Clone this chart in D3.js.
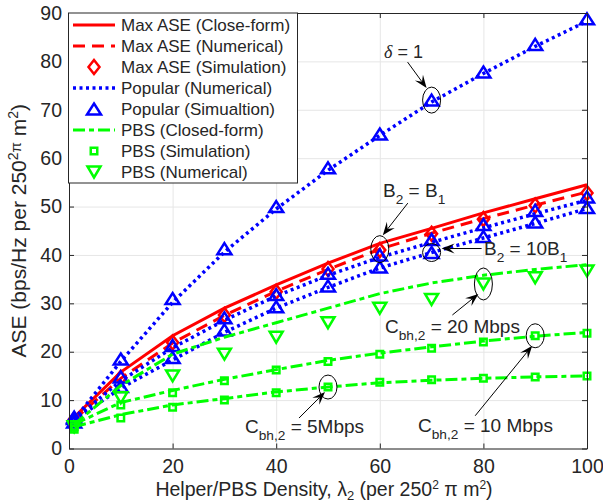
<!DOCTYPE html>
<html>
<head>
<meta charset="utf-8">
<script src="https://cdn.jsdelivr.net/npm/d3@7"></script>
<style>
  body { margin: 0; background: #fff; }
  text { font-family: "Liberation Sans", Arial, sans-serif; fill: #262626; }
</style>
</head>
<body>
<script>
// helper / PBS density (x) and ASE values
const xVals = [1, 10, 20, 30, 40, 50, 60, 70, 80, 90, 100];

const maxClosed = [6.5, 15.8, 23.3, 29, 33.8, 38.3, 42.4, 45.5, 48.7, 51.6, 54.5];
const maxNum    = [6, 14.5, 21.8, 27.5, 32.5, 37, 41.2, 44.5, 47.5, 50.3, 53];
const maxSim    = [6, 14.6, 21.9, 27.6, 32.4, 37.1, 41, 44.4, 47.4, 50.2, 52.8];

const popDeltaNum = [6, 18, 30.2, 40.6, 49.5, 57.5, 64.7, 71.6, 77.5, 83.1, 88.3];
const popB1Num    = [6, 14, 20.8, 26.5, 31.5, 35.8, 39.5, 42.6, 45.6, 48.5, 51.3];
const popB10Num   = [5.8, 12.5, 18.3, 24, 29, 33.3, 37.3, 40.5, 43.5, 46.5, 49.6];
const popDeltaSim = [6.2, 18.5, 31, 41.3, 50, 58, 65, 72, 77.8, 83.5, 88.8];
const popB1Sim    = [6.5, 14.8, 21.3, 27, 31.8, 36.2, 40, 43.2, 46.3, 49.2, 52];
const popB10Sim   = [5.5, 12.8, 18.8, 24.5, 29.3, 33.6, 37.5, 40.5, 43.8, 46.8, 49.8];

const pbs20Closed = [5, 13, 19.5, 23, 26, 29, 32, 34.2, 35.8, 37, 38];
const pbs10Closed = [5, 9.5, 12, 14.3, 16.3, 18.2, 19.7, 21, 22.2, 23.2, 24];
const pbs5Closed  = [4.5, 7, 9, 10.3, 11.7, 12.7, 13.6, 14.1, 14.5, 14.8, 15];
const pbs10Sim    = [4.5, 9, 11.5, 14, 16.2, 18, 19.5, 20.7, 22, 23.3, 23.8];
const pbs5Sim     = [4, 6.3, 8.5, 10, 11.5, 12.7, 13.7, 14.2, 14.5, 14.8, 15];
const pbs20Num    = [4.5, 10.5, 15, 19.5, 23, 26, 29, 30.8, 34, 35.3, 36.7];

const xTicks = [0, 20, 40, 60, 80, 100];
const yTicks = [0, 10, 20, 30, 40, 50, 60, 70, 80, 90];

const legendNames = [
  "Max ASE (Close-form)", "Max ASE (Numerical)", "Max ASE (Simulation)",
  "Popular (Numerical)", "Popular (Simualtion)", "PBS (Closed-form)",
  "PBS (Simulation)", "PBS (Numerical)"
];

const width = 603, height = 504;
const x = d3.scaleLinear().domain([0, 100]).range([69, 587]);
const y = d3.scaleLinear().domain([0, 90]).range([448.5, 13]);

const svg = d3.select("body").append("svg")
  .attr("width", width).attr("height", height);

// grid
svg.append("g")
  .attr("transform", `translate(0,${y(0)})`)
  .call(d3.axisBottom(x).tickValues(xTicks).tickSize(-(y(0) - y(90))).tickFormat(""))
  .call(g => g.select(".domain").remove())
  .call(g => g.selectAll("line").attr("stroke", "#e6e6e6"));
svg.append("g")
  .attr("transform", `translate(${x(0)},0)`)
  .call(d3.axisLeft(y).tickValues(yTicks).tickSize(-(x(100) - x(0))).tickFormat(""))
  .call(g => g.select(".domain").remove())
  .call(g => g.selectAll("line").attr("stroke", "#e6e6e6"));

// marker shapes
const triUp = (w, h) => `M0,${-h / 2}L${w / 2},${h / 2}L${-w / 2},${h / 2}Z`;
const triDown = (w, h) => `M0,${h / 2}L${w / 2},${-h / 2}L${-w / 2},${-h / 2}Z`;
const diamond = (w, h) => `M0,${-h / 2}L${w / 2},0L0,${h / 2}L${-w / 2},0Z`;
const square = s => `M${-s / 2},${-s / 2}h${s}v${s}h${-s}Z`;

const line = d3.line().x(d => x(d[0])).y(d => y(d[1]));
const plot = svg.append("g");

function drawLine(vals, color, dash, w) {
  plot.append("path")
    .datum(d3.zip(xVals, vals))
    .attr("d", line)
    .attr("fill", "none")
    .attr("stroke", color)
    .attr("stroke-width", w)
    .attr("stroke-dasharray", dash);
}
function drawMarks(vals, color, shape) {
  plot.append("g").selectAll("path")
    .data(d3.zip(xVals, vals))
    .join("path")
    .attr("transform", d => `translate(${x(d[0])},${y(d[1])})`)
    .attr("d", shape)
    .attr("fill", "none")
    .attr("stroke", color)
    .attr("stroke-width", 2.5);
}

const RED = "#ff0000", BLUE = "#0000ff", GREEN = "#00ff00";
const DASH = "12,7", DOT = "3,3.5", DASHDOT = "12,4,5,4";

drawLine(maxClosed, RED, null, 3);
drawLine(maxNum, RED, DASH, 3);
drawMarks(maxSim, RED, diamond(11, 14));
drawLine(popDeltaNum, BLUE, DOT, 3.5);
drawLine(popB1Num, BLUE, DOT, 3.5);
drawLine(popB10Num, BLUE, DOT, 3.5);
drawMarks(popDeltaSim, BLUE, triUp(14, 11));
drawMarks(popB1Sim, BLUE, triUp(14, 11));
drawMarks(popB10Sim, BLUE, triUp(14, 11));
drawLine(pbs20Closed, GREEN, DASHDOT, 3);
drawLine(pbs10Closed, GREEN, DASHDOT, 3);
drawLine(pbs5Closed, GREEN, DASHDOT, 3);
drawMarks(pbs10Sim, GREEN, square(6.5));
drawMarks(pbs5Sim, GREEN, square(6.5));
drawMarks(pbs20Num, GREEN, triDown(13, 11));

// axes box with inward ticks
const axisColor = "#262626";
function styleAxis(g) {
  g.select(".domain").attr("stroke", axisColor);
  g.selectAll(".tick line").attr("stroke", axisColor);
  g.selectAll("text").attr("fill", axisColor).style("font-size", "19.5px");
}
svg.append("g").attr("transform", `translate(0,${y(0)})`)
  .call(d3.axisBottom(x).tickValues(xTicks).tickSizeInner(-5).tickSizeOuter(0).tickPadding(11))
  .call(styleAxis);
svg.append("g").attr("transform", `translate(0,${y(90)})`)
  .call(d3.axisTop(x).tickValues(xTicks).tickSizeInner(-5).tickSizeOuter(0).tickFormat(""))
  .call(styleAxis);
svg.append("g").attr("transform", `translate(${x(0)},0)`)
  .call(d3.axisLeft(y).tickValues(yTicks).tickSizeInner(-5).tickSizeOuter(0).tickPadding(7))
  .call(styleAxis);
svg.append("g").attr("transform", `translate(${x(100)},0)`)
  .call(d3.axisRight(y).tickValues(yTicks).tickSizeInner(-5).tickSizeOuter(0).tickFormat(""))
  .call(styleAxis);

// axis labels
const xl = svg.append("text")
  .attr("x", 324).attr("y", 496)
  .attr("text-anchor", "middle").style("font-size", "19.5px");
xl.append("tspan").text("Helper/PBS Density,  ");
xl.append("tspan").text("λ");
xl.append("tspan").attr("dy", 4).style("font-size", "13px").text("2");
xl.append("tspan").attr("dy", -4).text(" (per 250");
xl.append("tspan").attr("dy", -7).style("font-size", "12px").text("2");
xl.append("tspan").attr("dy", 7).text(" π m");
xl.append("tspan").attr("dy", -7).style("font-size", "12px").text("2");
xl.append("tspan").attr("dy", 7).text(")");

const yl = svg.append("text")
  .attr("transform", `translate(26,${(y(0) + y(90)) / 2}) rotate(-90)`)
  .attr("text-anchor", "middle").style("font-size", "21px");
yl.append("tspan").text("ASE (bps/Hz per 250");
yl.append("tspan").attr("dy", -8).style("font-size", "14px").text("2");
yl.append("tspan").attr("dy", 3).style("font-size", "15px").text("π");
yl.append("tspan").attr("dy", 5).text(" m");
yl.append("tspan").attr("dy", -8).style("font-size", "14px").text("2");
yl.append("tspan").attr("dy", 8).text(")");

// annotations: ellipse on a data point, arrow given relative to it
const ann = svg.append("g");
function arrow(x1, y1, x2, y2) {
  const a = Math.atan2(y2 - y1, x2 - x1), L = 13, W = 5;
  ann.append("line").attr("x1", x1).attr("y1", y1).attr("x2", x2 - L * 0.6 * Math.cos(a)).attr("y2", y2 - L * 0.6 * Math.sin(a))
    .attr("stroke", "#000").attr("stroke-width", 1);
  const bx = x2 - L * Math.cos(a), by = y2 - L * Math.sin(a);
  const nx = x2 - L * 0.6 * Math.cos(a), ny = y2 - L * 0.6 * Math.sin(a);
  const px = -Math.sin(a) * W, py = Math.cos(a) * W;
  ann.append("path")
    .attr("d", `M${x2},${y2}L${bx + px},${by + py}L${nx},${ny}L${bx - px},${by - py}Z`)
    .attr("fill", "#000");
}
function callout(xv, yv, rx, ry, a0, a1) {
  const cx = x(xv), cy = y(yv);
  ann.append("ellipse").attr("cx", cx).attr("cy", cy).attr("rx", rx).attr("ry", ry)
    .attr("fill", "none").attr("stroke", "#000").attr("stroke-width", 1);
  arrow(cx + a0[0], cy + a0[1], cx + a1[0], cy + a1[1]);
  return [cx, cy];
}
function label(px, py, main, sub, rest, size) {
  const t = ann.append("text").attr("x", px).attr("y", py).style("font-size", size + "px");
  t.append("tspan").text(main);
  t.append("tspan").attr("dy", 7).style("font-size", (size * 0.72) + "px").text(sub);
  t.append("tspan").attr("dy", -7).text(rest);
  return t;
}

// delta = 1
callout(70, popDeltaSim[7], 9, 13, [-24, -38], [-5, -12]);
const dl = ann.append("text").attr("x", 384).attr("y", 58).style("font-size", "18px");
dl.append("tspan").style("font-family", "'Liberation Serif', serif").style("font-style", "italic").text("δ");
dl.append("tspan").text(" = 1");

// B2 = B1
callout(60, maxNum[6], 9, 13.5, [28, -46], [3, -14]);
const b1 = label(383, 197, "B", "2", " = B", 19);
b1.append("tspan").attr("dy", 7).style("font-size", "13.7px").text("1");

// B2 = 10B1
callout(70, popB10Sim[7], 9, 9, [50, -4], [10, -4]);
const b10 = label(484, 255, "B", "2", " = 10B", 19);
b10.append("tspan").attr("dy", 7).style("font-size", "13.7px").text("1");

// Cbh,2 labels
callout(80, pbs20Num[8], 9, 16, [-31, 31], [-5, 10]);
label(385, 333, "C", "bh,2", " = 20 Mbps", 19);
callout(90, pbs10Sim[9], 9, 12, [-60, 80], [-3, 10]);
label(418, 432, "C", "bh,2", " = 10 Mbps", 19);
callout(50, pbs5Sim[5], 9, 12, [-29, 31], [-3, 5]);
label(245, 433, "C", "bh,2", " = 5Mbps", 19);

// legend
const lg = svg.append("g");
lg.append("rect").attr("x", 68.5).attr("y", 13).attr("width", 229).attr("height", 170)
  .attr("fill", "#fff").attr("stroke", axisColor).attr("stroke-width", 1);
const legendStyle = [
  { c: RED, dash: null }, { c: RED, dash: DASH }, { c: RED, m: diamond(11, 14) },
  { c: BLUE, dash: DOT }, { c: BLUE, m: triUp(14, 11) }, { c: GREEN, dash: DASHDOT },
  { c: GREEN, m: square(6.5) }, { c: GREEN, m: triDown(13, 11) }
];
legendNames.forEach((name, i) => {
  const cy = 25 + i * 21, st = legendStyle[i];
  if (st.m) {
    lg.append("path").attr("transform", `translate(94,${cy})`).attr("d", st.m)
      .attr("fill", "none").attr("stroke", st.c).attr("stroke-width", 2.5);
  } else {
    lg.append("line").attr("x1", 73).attr("x2", 115).attr("y1", cy).attr("y2", cy)
      .attr("stroke", st.c).attr("stroke-width", st.dash === DOT ? 3.5 : 3)
      .attr("stroke-dasharray", st.dash);
  }
  lg.append("text").attr("x", 121).attr("y", cy + 6).style("font-size", "17px").text(name);
});
</script>
</body>
</html>
